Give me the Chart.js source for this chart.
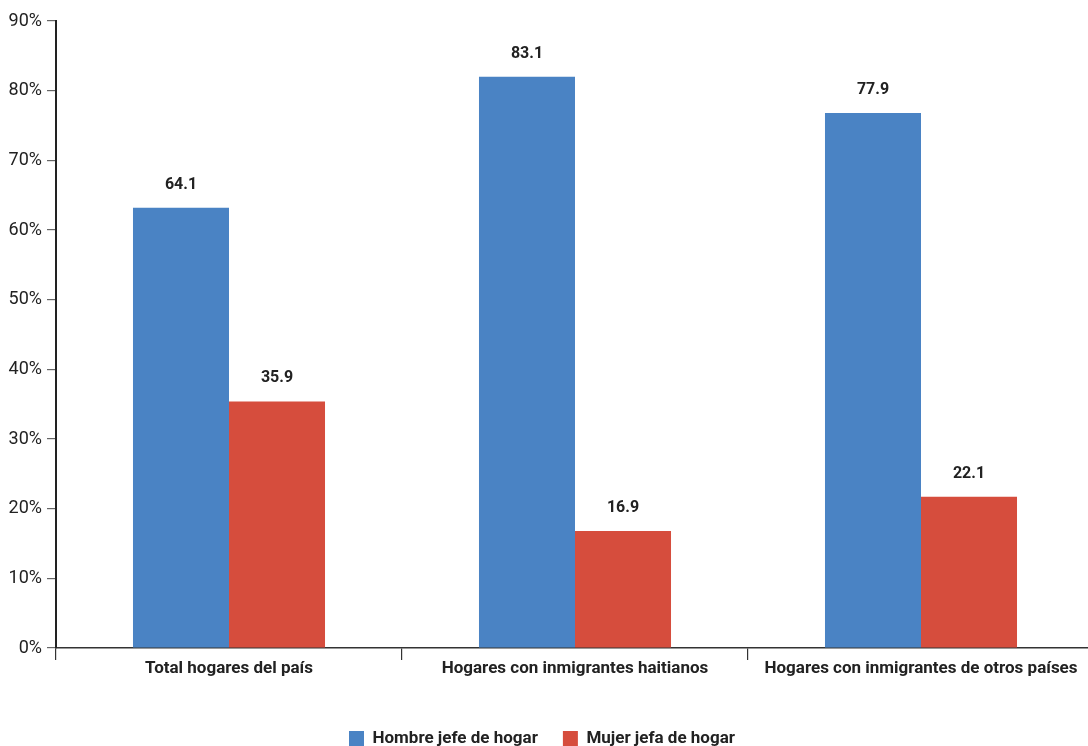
<!DOCTYPE html>
<html lang="es">
<head>
    <meta charset="UTF-8">
    <title>Jefatura de hogar</title>
    <style>
        body {
            margin: 0;
            padding: 0;
            background: #ffffff;
            overflow: hidden;
        }
        #chart {
            display: block;
        }
    </style>
    <script src="https://cdn.jsdelivr.net/npm/chart.js"></script>
</head>
<body>
    <canvas id="chart" width="1094" height="757"></canvas>

    <script>
        // data
        const categories = ['Total hogares del país', 'Hogares con inmigrantes haitianos', 'Hogares con inmigrantes de otros países'];
        const seriesNames = ['Hombre jefe de hogar', 'Mujer jefa de hogar'];
        const hombreValues = [63.2, 82.0, 76.8];   // bar heights as drawn
        const mujerValues = [35.4, 16.8, 21.7];
        const hombreLabels = ['64.1', '83.1', '77.9']; // printed labels
        const mujerLabels = ['35.9', '16.9', '22.1'];
        const yTicks = [0, 10, 20, 30, 40, 50, 60, 70, 80, 90];

        const textColor = '#222222';
        const fontFamily = 'Roboto, "Liberation Sans", sans-serif';

        // draws the value above every bar
        const valueLabels = {
            id: 'valueLabels',
            afterDatasetsDraw(chart) {
                const ctx = chart.ctx;
                const allLabels = [hombreLabels, mujerLabels];
                ctx.save();
                ctx.font = 'bold 16px ' + fontFamily;
                ctx.fillStyle = textColor;
                ctx.textAlign = 'center';
                ctx.textBaseline = 'middle';
                chart.data.datasets.forEach(function (ds, d) {
                    chart.getDatasetMeta(d).data.forEach(function (bar, i) {
                        ctx.fillText(allLabels[d][i], bar.x, bar.y - 23);
                    });
                });
                ctx.restore();
            }
        };

        new Chart(document.getElementById('chart'), {
            type: 'bar',
            data: {
                labels: categories,
                datasets: [
                    {
                        label: seriesNames[0],
                        data: hombreValues,
                        backgroundColor: '#4a83c4',
                        categoryPercentage: 0.555,
                        barPercentage: 1.0
                    },
                    {
                        label: seriesNames[1],
                        data: mujerValues,
                        backgroundColor: '#d64d3d',
                        categoryPercentage: 0.555,
                        barPercentage: 1.0
                    }
                ]
            },
            options: {
                responsive: false,
                animation: false,
                layout: {
                    padding: { top: 21, left: -10, right: 0, bottom: 0 }
                },
                scales: {
                    x: {
                        grid: {
                            drawOnChartArea: false,
                            drawTicks: true,
                            tickLength: 12,
                            color: '#333333',
                            lineWidth: 1.2
                        },
                        border: { color: '#333333', width: 1.5 },
                        ticks: {
                            color: textColor,
                            padding: -1,
                            maxRotation: 0,
                            font: { family: fontFamily, size: 17, weight: 'bold' }
                        },
                        afterFit(scale) {
                            scale.height = 57;
                        }
                    },
                    y: {
                        min: 0,
                        max: yTicks[yTicks.length - 1],
                        afterBuildTicks(scale) {
                            scale.ticks = yTicks.map(v => ({ value: v }));
                        },
                        grid: {
                            drawOnChartArea: false,
                            drawTicks: true,
                            tickLength: 9,
                            color: '#666666',
                            lineWidth: 1.2
                        },
                        border: { color: '#222222', width: 2 },
                        ticks: {
                            color: textColor,
                            padding: 5,
                            font: { family: fontFamily, size: 18 },
                            callback: v => v + '%'
                        },
                        afterFit(scale) {
                            scale.width = 66;
                        }
                    }
                },
                plugins: {
                    legend: {
                        display: true,
                        position: 'bottom',
                        labels: {
                            boxWidth: 15,
                            boxHeight: 15,
                            padding: 25,
                            color: textColor,
                            font: { family: fontFamily, size: 17, weight: 'bold' }
                        }
                    },
                    tooltip: { enabled: false }
                }
            },
            plugins: [valueLabels]
        });
    </script>
</body>
</html>
